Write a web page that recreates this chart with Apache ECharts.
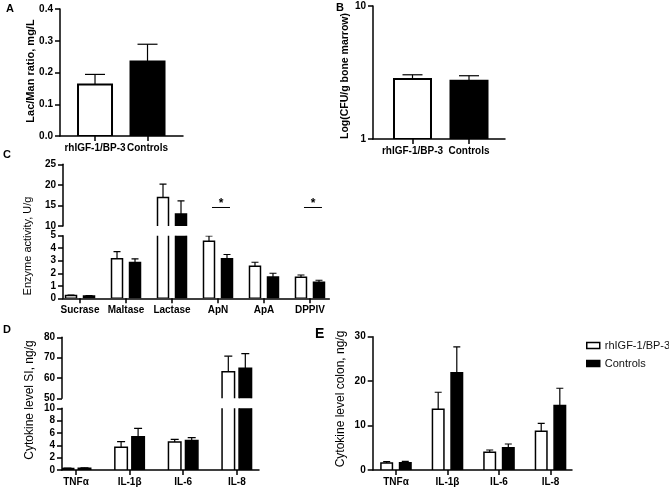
<!DOCTYPE html>
<html><head><meta charset="utf-8">
<script src="https://cdn.jsdelivr.net/npm/echarts@6/dist/echarts.min.js"></script>
<style>html,body{margin:0;padding:0;background:#fff}#c{width:669px;height:491px}</style>
</head><body><div id="c"></div>
<script>
// ---------------- data ----------------
const groups = ['rhIGF-1/BP-3', 'Controls'];

// Panel A: Lac/Man ratio
const lacManValues = [0.162, 0.235];
const lacManErrors = [0.032, 0.054];

// Panel B: Log(CFU/g bone marrow)
const cfuValues = [2.83, 2.74];
const cfuErrors = [0.21, 0.25];

// Panel C: enzyme activity
const enzymeCats = ['Sucrase', 'Maltase', 'Lactase', 'ApN', 'ApA', 'DPPIV'];
const enzymeIGF = [0.22, 3.15, 16.9, 4.55, 2.55, 1.68];
const enzymeIGFErr = [0.04, 0.58, 3.3, 0.43, 0.33, 0.18];
const enzymeCtrl = [0.18, 2.85, 12.9, 3.15, 1.7, 1.28];
const enzymeCtrlErr = [0.04, 0.3, 3.2, 0.35, 0.3, 0.16];
const enzymeSigIdx = [3, 5];
const enzymeSigLevel = 14.5;

// Panel D: cytokine level SI
const cytoCats = ['TNF\u03b1', 'IL-1\u03b2', 'IL-6', 'IL-8'];
const siIGF = [0.25, 3.7, 4.55, 63.1];
const siIGFErr = [0.05, 0.9, 0.42, 7.6];
const siCtrl = [0.3, 5.4, 4.8, 64.8];
const siCtrlErr = [0.05, 1.35, 0.44, 7.2];

// Panel E: cytokine level colon
const colonIGF = [1.6, 13.7, 4.0, 8.7];
const colonIGFErr = [0.3, 3.8, 0.5, 1.8];
const colonCtrl = [1.65, 21.9, 5.0, 14.5];
const colonCtrlErr = [0.3, 5.8, 0.85, 3.9];

// ---------------- chart ----------------
const FONT = '"Liberation Sans", Arial, Helvetica, sans-serif';
const chart = echarts.init(document.getElementById('c'), null, {renderer: 'canvas'});

function box(l, t, r, b) {
  return {left: l, top: t, width: r - l, height: b - t, containLabel: false, outerBoundsMode: 'none'};
}
const grids = [
  box(60, 9, 183, 136),          // 0 A
  box(373, 6, 505, 139),         // 1 B
  box(63, 164.3, 329.3, 226),    // 2 C upper
  box(63, 235.7, 329.3, 298.3),  // 3 C lower
  box(62, 337.3, 259, 398.3),    // 4 D upper
  box(62, 408.3, 259, 470),      // 5 D lower
  box(372.7, 336.7, 572, 470)    // 6 E
];

const axisLineStyle = {color: '#000', width: 1.5};
function xAx(gi, min, max, labels, show) {
  const vals = labels.map((_, i) => i);
  return {
    type: 'value', gridIndex: gi, min: min, max: max, show: show,
    axisLine: {show: true, onZero: false, lineStyle: axisLineStyle},
    axisTick: {show: true, customValues: vals, length: 5, lineStyle: axisLineStyle},
    axisLabel: {show: true, customValues: vals, formatter: v => labels[Math.round(v)] || '',
      fontSize: 10, fontWeight: 'bold', color: '#000', margin: 7, fontFamily: FONT},
    splitLine: {show: false}
  };
}
function yAx(gi, min, max, interval, fmt, type) {
  const o = {
    type: type || 'value', gridIndex: gi, min: min, max: max,
    axisLine: {show: true, onZero: false, lineStyle: axisLineStyle},
    axisTick: {show: true, length: 5, lineStyle: axisLineStyle},
    axisLabel: {fontSize: 10, fontWeight: 'bold', color: '#000', margin: 7, fontFamily: FONT},
    splitLine: {show: false}, minorTick: {show: false}, minorSplitLine: {show: false}
  };
  if (interval) o.interval = interval;
  if (fmt) o.axisLabel.formatter = fmt;
  if (type === 'log') o.logBase = 10;
  return o;
}

const xAxes = [
  xAx(0, -0.667, 1.676, groups, true),
  xAx(1, -0.699, 1.637, groups, true),
  xAx(2, -0.37, 5.42, enzymeCats, false),
  xAx(3, -0.37, 5.42, enzymeCats, true),
  xAx(4, -0.261, 3.414, cytoCats, false),
  xAx(5, -0.261, 3.414, cytoCats, true),
  xAx(6, -0.452, 3.417, cytoCats, true)
];
const yAxes = [
  yAx(0, 0, 0.4, 0.1, v => v.toFixed(1)),
  yAx(1, 1, 10, null, null, 'log'),
  yAx(2, 10, 25, 5),
  yAx(3, 0, 5, 1),
  yAx(4, 50, 80, 10),
  yAx(5, 0, 10, 2),
  yAx(6, 0, 30, 10)
];

function barRenderer(opt) {
  return function (params, api) {
    const i = api.value(0), v = api.value(1), e = api.value(2);
    const top = api.coord([i, v]);
    const bot = api.coord([i, opt.base]);
    const et = api.coord([i, v + e]);
    const x = top[0] + opt.offset;
    const half = opt.barW / 2;
    const es = {stroke: '#000', lineWidth: 1.2};
    return {
      type: 'group',
      children: [
        {type: 'line', shape: {x1: x, y1: top[1], x2: x, y2: et[1]}, style: es},
        {type: 'line', shape: {x1: x - opt.capW / 2, y1: et[1], x2: x + opt.capW / 2, y2: et[1]}, style: es},
        {type: 'rect', shape: {x: x - half, y: top[1], width: opt.barW, height: bot[1] - top[1]},
          style: {fill: opt.fill, stroke: '#000', lineWidth: opt.lw}}
      ]
    };
  };
}
function rows(values, errs) {
  return values.map((v, i) => [i, v, errs[i]]);
}
function cs(name, gi, data, opt) {
  return {
    type: 'custom', name: name, coordinateSystem: 'cartesian2d', xAxisIndex: gi, yAxisIndex: gi,
    clip: true, data: data, encode: {x: 0, y: 1}, renderItem: barRenderer(opt), silent: true,
    itemStyle: {color: opt.fill, borderColor: '#000'}
  };
}
const W = '#ffffff', K = '#000000';
const series = [];
// A
series.push(cs(groups[0], 0, [[0, lacManValues[0], lacManErrors[0]]], {barW: 34, offset: 0, fill: W, base: 0, capW: 20, lw: 2}));
series.push(cs(groups[1], 0, [[1, lacManValues[1], lacManErrors[1]]], {barW: 34, offset: 0, fill: K, base: 0, capW: 20, lw: 2}));
// B
series.push(cs(groups[0], 1, [[0, cfuValues[0], cfuErrors[0]]], {barW: 37, offset: 0, fill: W, base: 1, capW: 20, lw: 2}));
series.push(cs(groups[1], 1, [[1, cfuValues[1], cfuErrors[1]]], {barW: 37, offset: 0, fill: K, base: 1, capW: 20, lw: 2}));
// C
[2, 3].forEach(gi => {
  series.push(cs(groups[0], gi, rows(enzymeIGF, enzymeIGFErr), {barW: 11, offset: -9, fill: W, base: 0, capW: 7, lw: 1.5}));
  series.push(cs(groups[1], gi, rows(enzymeCtrl, enzymeCtrlErr), {barW: 11, offset: 9, fill: K, base: 0, capW: 7, lw: 1.5}));
});
// D
[4, 5].forEach(gi => {
  series.push(cs(groups[0], gi, rows(siIGF, siIGFErr), {barW: 12.5, offset: -8.5, fill: W, base: 0, capW: 8, lw: 1.5}));
  series.push(cs(groups[1], gi, rows(siCtrl, siCtrlErr), {barW: 12.5, offset: 8.5, fill: K, base: 0, capW: 8, lw: 1.5}));
});
// E
series.push(cs(groups[0], 6, rows(colonIGF, colonIGFErr), {barW: 11.5, offset: -9.3, fill: W, base: 0, capW: 7, lw: 1.5}));
series.push(cs(groups[1], 6, rows(colonCtrl, colonCtrlErr), {barW: 11.5, offset: 9.3, fill: K, base: 0, capW: 7, lw: 1.5}));
// significance markers in C
series.push({
  type: 'custom', name: 'sig', coordinateSystem: 'cartesian2d', xAxisIndex: 2, yAxisIndex: 2, silent: true,
  data: enzymeSigIdx.map(i => [i, enzymeSigLevel]), encode: {x: 0, y: 1},
  renderItem: function (params, api) {
    const p = api.coord([api.value(0), api.value(1)]);
    const cx = p[0] + 3;
    return {type: 'group', children: [
      {type: 'line', shape: {x1: cx - 9, y1: p[1], x2: cx + 9, y2: p[1]}, style: {stroke: '#000', lineWidth: 1}},
      {type: 'text', x: cx, y: p[1] - 4, style: {text: '*', fill: '#000', font: 'bold 12px ' + FONT, align: 'center', verticalAlign: 'middle'}}
    ]};
  }
});

function vtitle(text, x, y, font) {
  return {type: 'text', x: x, y: y, rotation: Math.PI / 2,
    style: {text: text, fill: '#000', font: font, align: 'center', verticalAlign: 'middle'}};
}
function letter(t, x, y, size) {
  return {type: 'text', x: x, y: y, style: {text: t, fill: '#000', font: 'bold ' + size + 'px ' + FONT, align: 'left', verticalAlign: 'top'}};
}

chart.setOption({
  animation: false,
  textStyle: {fontFamily: FONT},
  grid: grids,
  xAxis: xAxes,
  yAxis: yAxes,
  series: series,
  legend: {
    left: 581, top: 335, orient: 'vertical', itemWidth: 13, itemHeight: 6, itemGap: 7, selectedMode: false,
    textStyle: {fontSize: 11, color: '#111', fontFamily: FONT, overflow: 'none'},
    data: [
      {name: groups[0], icon: 'rect', itemStyle: {color: '#fff', borderColor: '#000', borderWidth: 1.5}},
      {name: groups[1], icon: 'rect', itemStyle: {color: '#000', borderColor: '#000', borderWidth: 1.5}}
    ]
  },
  graphic: [
    vtitle('Lac/Man ratio, mg/L', 31, 71, 'bold 11px ' + FONT),
    vtitle('Log(CFU/g bone marrow)', 345, 76, 'bold 10.5px ' + FONT),
    vtitle('Enzyme activity, U/g', 28, 246, '11px ' + FONT),
    vtitle('Cytokine level SI, ng/g', 30, 400, '12px ' + FONT),
    vtitle('Cytokine level colon, ng/g', 341, 399, '12px ' + FONT),
    letter('A', 6, 3, 11),
    letter('B', 336, 2, 11),
    letter('C', 3, 149, 11),
    letter('D', 3, 324, 11),
    letter('E', 315, 327, 14)
  ]
});
</script>
</body></html>
